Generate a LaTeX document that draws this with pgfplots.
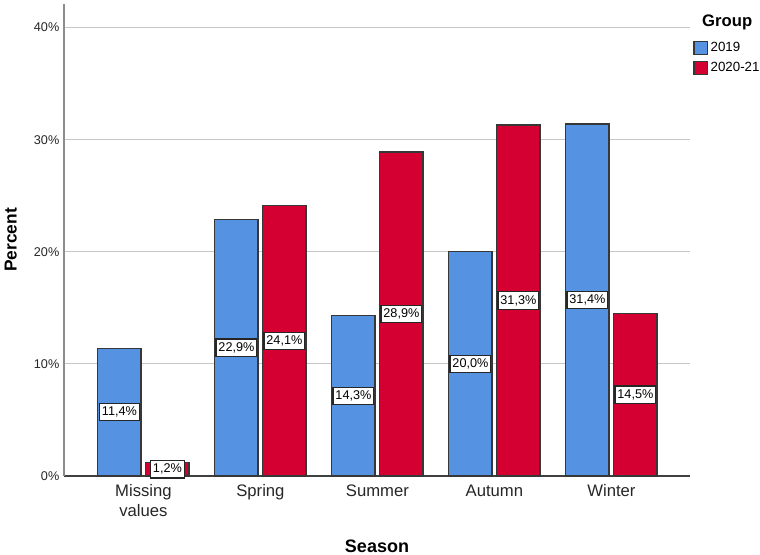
\documentclass[border=0pt]{standalone}
\usepackage{pgfplots}
\pgfplotsset{compat=1.18}
\usepackage{fontspec}
\setmainfont{Liberation Sans}
\definecolor{bblue}{RGB}{85,146,225}
\definecolor{bred}{RGB}{213,0,50}
\definecolor{edgec}{RGB}{55,55,55}
\begin{document}
\begin{tikzpicture}
\path[use as bounding box] (-48pt,-59.25pt) rectangle (522pt,357pt);
\begin{axis}[
  scale only axis,
  width=469.5pt, height=354pt,
  xmin=-0.679, xmax=4.672,
  ymin=0, ymax=42.1,
  axis x line*=bottom, axis y line*=left,
  x axis line style={-, draw=black!75, line width=0.8pt},
  y axis line style={-, draw=black!45, line width=0.8pt},
  xtick={0,1,2,3,4},
  xticklabels={{Missing\\values},Spring,Summer,Autumn,Winter},
  xticklabel style={align=center, font=\fontsize{12.5}{14.5}\selectfont, text=black!85, yshift=-3pt},
  ytick={0,10,20,30,40},
  yticklabels={0\%,10\%,20\%,30\%,40\%},
  yticklabel style={font=\fontsize{9.5}{11}\selectfont, text=black!85},
  major tick length=0pt,
  ymajorgrids,
  grid style={draw=black!22, line width=0.6pt},
  xlabel={\textbf{Season}},
  ylabel={\textbf{Percent}},
  xlabel style={font=\fontsize{13.5}{15}\selectfont, yshift=-11pt},
  ylabel style={font=\fontsize{13}{15}\selectfont, yshift=6pt},
  legend style={at={(1.005,0.925)}, anchor=north west, draw=none, fill=none,
    font=\fontsize{10}{12}\selectfont, inner sep=0pt, row sep=2.5pt,
    legend cell align=left},
  legend image code/.code={\draw[#1] (0pt,-5pt) rectangle (10pt,5pt);},
  clip=false,
]
\addplot[ybar, bar width=0.37, bar shift=0pt, fill=bblue, draw=edgec, line width=0.9pt]
  coordinates {(-0.205,11.4) (0.795,22.9) (1.795,14.3) (2.795,20.0) (3.795,31.4)};
\addlegendentry{2019}
\addplot[ybar, bar width=0.37, bar shift=0pt, fill=bred, draw=edgec, line width=0.9pt]
  coordinates {(0.205,1.2) (1.205,24.1) (2.205,28.9) (3.205,31.3) (4.205,14.5)};
\addlegendentry{2020-21}
\addplot[draw=none, mark=none, forget plot, point meta=explicit symbolic,
  nodes near coords, nodes near coords align={center},
  every node near coord/.append style={fill=white, draw=black!85, line width=0.9pt,
    inner xsep=1.8pt, inner ysep=2.6pt, font=\fontsize{9.5}{11}\selectfont, text=black}]
  coordinates {(-0.205,5.7) [11{,}4\%] (0.795,11.45) [22{,}9\%] (1.795,7.15) [14{,}3\%] (2.795,10.0) [20{,}0\%] (3.795,15.7) [31{,}4\%]};
\addplot[draw=none, mark=none, forget plot, point meta=explicit symbolic,
  nodes near coords, nodes near coords align={center},
  every node near coord/.append style={fill=white, draw=black!85, line width=0.9pt,
    inner xsep=1.8pt, inner ysep=2.6pt, font=\fontsize{9.5}{11}\selectfont, text=black}]
  coordinates {(0.205,0.6) [1{,}2\%] (1.205,12.05) [24{,}1\%] (2.205,14.45) [28{,}9\%] (3.205,15.65) [31{,}3\%] (4.205,7.25) [14{,}5\%]};
\node[font=\bfseries\fontsize{12.5}{14}\selectfont, anchor=west] at (rel axis cs:1.012,0.96) {Group};
\end{axis}
\end{tikzpicture}
\end{document}
